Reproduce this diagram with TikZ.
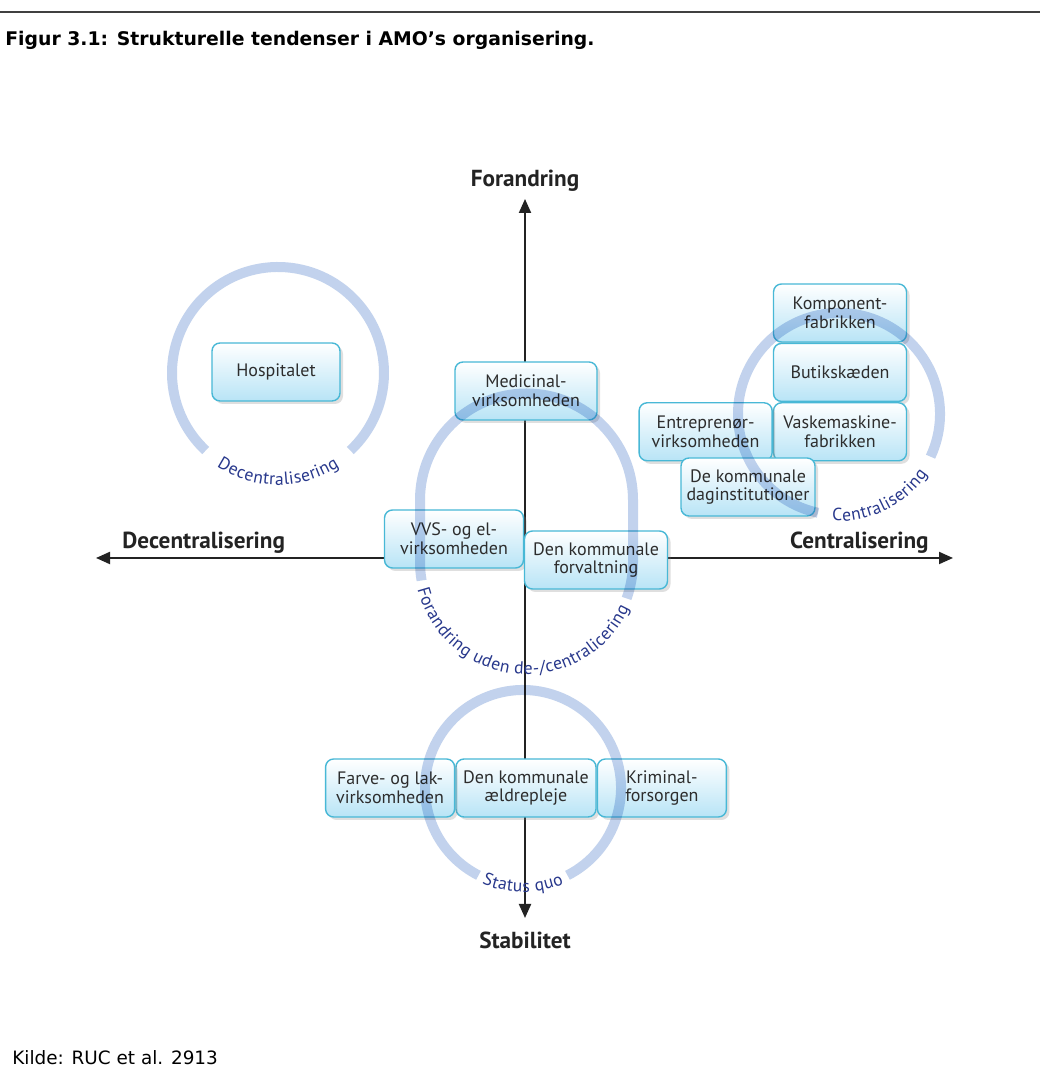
\documentclass[tikz,border=0pt]{standalone}
\usepackage{fontspec}
\setmainfont{DejaVu Sans}
\newfontfamily\diagfont{PT Sans}
\usepackage{xcolor}
\usepackage{tikz}
\usetikzlibrary{arrows.meta,positioning,shadows,calc,decorations.text}

\definecolor{boxline}{RGB}{72,184,214}
\definecolor{boxbot}{RGB}{184,228,246}
\definecolor{boxtext}{RGB}{45,45,45}
\definecolor{ringblue}{RGB}{194,210,237}
\definecolor{ringtext}{RGB}{40,56,140}
\definecolor{axisgray}{RGB}{35,35,35}

\newcommand{\boxfont}{\diagfont\fontsize{9}{9.3}\selectfont}
\newcommand{\labelfont}{\diagfont\bfseries\fontsize{11.6}{13}\selectfont}
\newcommand{\ringfont}{\diagfont\fontsize{8.8}{11}\selectfont\color{ringtext}}

\begin{document}
\begin{tikzpicture}[
    x=0.5pt, y=0.5pt,
    box/.style={rectangle, rounded corners=4pt, draw=boxline, line width=0.7pt, top color=white, bottom color=boxbot, minimum height=29pt, inner sep=1pt, align=center, font=\boxfont, text=boxtext, drop shadow={shadow xshift=1.5pt, shadow yshift=-1.5pt, opacity=0.25}},
    axis/.style={line width=1pt, draw=axisgray, {Triangle[length=7pt,width=6pt]}-{Triangle[length=7pt,width=6pt]}},
    axislabel/.style={font=\labelfont, text=axisgray, inner sep=0pt},
    ring/.style={line width=5pt, draw=ringblue, blend mode=multiply},
    ringlabel/.style={decorate, decoration={text along path, text align=center, raise=-3pt, text={|\ringfont|#1}}}
]
    \fill[white] (0,0) rectangle (1040,1090);
    \useasboundingbox (0,0) rectangle (1040,1090);

    % header and source
    \draw[line width=1pt, black!75] (0,1078) -- (1040,1078);
    \node[anchor=west, inner sep=0pt, font=\bfseries\fontsize{9.4}{11}\selectfont] (title) at (5,1050) {Figur 3.1: Strukturelle tendenser i AMO’s organisering.};
    \node[anchor=west, inner sep=0pt, font=\fontsize{9.2}{11}\selectfont] (source) at (12,32) {Kilde: RUC et al. 2913};

    % axes
    \coordinate (ntip) at (525,891);
    \coordinate (stip) at (525,172);
    \coordinate (wtip) at (96,532);
    \coordinate (etip) at (953,532);
    \draw[axis] (stip) -- (ntip);
    \draw[axis] (wtip) -- (etip);
    \node[axislabel] (nlab) at (525,909) {Forandring};
    \node[axislabel] (slab) at (525,150) {Stabilitet};
    \node[axislabel, anchor=west] (wlab) at (122,547) {Decentralisering};
    \node[axislabel, anchor=east] (elab) at (929,547) {Centralisering};

    % organisations
    \node[box, minimum width=64pt] (hosp) at (276,718) {Hospitalet};
    \node[box, minimum width=71pt] (medic) at (526,699) {Medicinal-\\virksomheden};
    \node[box, minimum width=69.5pt] (vvs) at (454,551) {VVS- og el-\\virksomheden};
    \node[box, minimum width=71.5pt] (forv) at (596,530) {Den kommunale\\forvaltning};
    \node[box, minimum width=66.5pt] (komp) at (840,777) {Komponent-\\fabrikken};
    \node[box, minimum width=66.5pt, below=0pt of komp] (butik) {Butikskæden};
    \node[box, minimum width=66.5pt, below=0pt of butik] (vask) {Vaskemaskine-\\fabrikken};
    \node[box, minimum width=66.5pt, left=0pt of vask] (entr) {Entreprenør-\\virksomheden};
    \node[box, minimum width=67pt] (dagin) at (748,603) {De kommunale\\daginstitutioner};
    \node[box, minimum width=70pt] (aeld) at (526,302) {Den kommunale\\ældrepleje};
    \node[box, minimum width=64.5pt, left=0pt of aeld] (farve) {Farve- og lak-\\virksomheden};
    \node[box, minimum width=64.5pt, right=0pt of aeld] (krim) {Kriminal-\\forsorgen};

    % tendencies
    \coordinate (decc) at (278,717);
    \coordinate (cenc) at (839,676);
    \coordinate (archtop) at (526.5,590);
    \coordinate (archlow) at (526.5,528);
    \coordinate (sqc) at (523,302);

    \draw[ring] ($(decc)+(313:106)$) arc[start angle=313, end angle=587, radius=106];
    \path[ringlabel=Decentralisering] ($(decc)+(200:106)$) arc[start angle=200, end angle=340, radius=106];

    \draw[ring] ($(cenc)+(335:101)$) arc[start angle=335, end angle=618, radius=101];
    \path[ringlabel=Centralisering] ($(cenc)+(240:101)$) arc[start angle=240, end angle=352, radius=101];

    \draw[ring] ($(archlow)+(190:106.5)$) arc[start angle=190, end angle=180, radius=106.5]
        -- ($(archtop)+(180:106.5)$) arc[start angle=180, end angle=0, radius=106.5]
        -- ($(archlow)+(0:106.5)$) arc[start angle=0, end angle=-20, radius=106.5];
    \path[ringlabel=Forandring uden de-/centralicering] ($(archlow)+(172:106.5)$) arc[start angle=172, end angle=358, radius=106.5];

    \draw[ring] ($(sqc)+(297:98)$) arc[start angle=297, end angle=603, radius=98];
    \path[ringlabel=Status quo] ($(sqc)+(225:98)$) arc[start angle=225, end angle=315, radius=98];
\end{tikzpicture}
\end{document}
